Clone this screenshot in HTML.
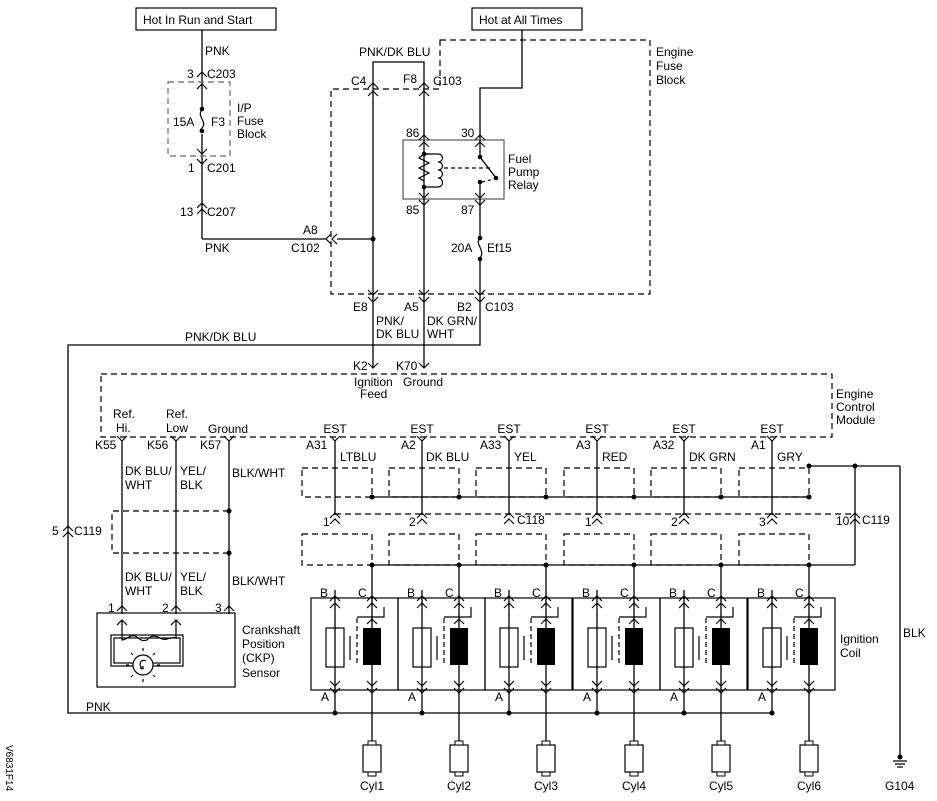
<!DOCTYPE html>
<html><head><meta charset="utf-8"><style>
html,body{margin:0;padding:0;background:#fff}
svg{display:block}
text{font-family:"Liberation Sans",Arial,sans-serif;font-size:12px;fill:#000}
.w{stroke:#000;stroke-width:1.3;fill:none}
.d{stroke:#000;stroke-width:1.2;fill:none;stroke-dasharray:6,4}
.g{stroke:#666;stroke-width:1.2;fill:none;stroke-dasharray:6,4}
.c{stroke:#000;stroke-width:1.2;fill:none}
</style></head><body>
<svg width="937" height="801" viewBox="0 0 937 801" xmlns="http://www.w3.org/2000/svg">
<defs>
<g id="coil">
  <rect x="-24" y="598" width="87" height="92" class="c"/>
  <rect x="-9" y="628" width="18" height="39" fill="#fff" stroke="#000" stroke-width="1.2"/>
  <line x1="15" y1="636" x2="15" y2="660" class="c"/>
  <line x1="22" y1="618" x2="22" y2="666" class="c" stroke-dasharray="5,3"/>
  <rect x="28" y="628" width="18" height="37" fill="#000"/>
  <path d="M22 617 H49 V607" class="c"/>
  <line x1="0" y1="590" x2="0" y2="713" class="w"/>
  <line x1="37" y1="565" x2="37" y2="745" class="w"/>
  <path d="M-5 601 L0 596 L5 601 M-5 608 L0 603 L5 608" class="c"/>
  <path d="M32 601 L37 596 L42 601 M32 608 L37 603 L42 608 M32 624 L37 619 L42 624" class="c"/>
  <path d="M-5 681 L0 686 L5 681 M-5 688 L0 693 L5 688" class="c"/>
  <path d="M32 681 L37 686 L42 681 M32 688 L37 693 L42 688" class="c"/>
  <circle cx="0" cy="713" r="2.5"/>
  <rect x="28" y="745" width="18" height="27" fill="#fff" stroke="#000" stroke-width="1.2"/>
  <rect x="33" y="741" width="8" height="4" fill="#fff" stroke="#000" stroke-width="1"/>
  <rect x="33" y="772" width="8" height="4" fill="#fff" stroke="#000" stroke-width="1"/>
  <line x1="0" y1="515" x2="0" y2="440" class="w"/>
  <path d="M-5 436 L0 441 L5 436" class="c"/>
  <path d="M-5 518 L0 513 L5 518 M-5 524 L0 519 L5 524" class="c"/>
  <path d="M-33 468 H37 V497 H-33 Z" class="d"/>
  <path d="M-33 534 H37 V565 H-33 Z" class="d"/>
  <circle cx="37" cy="497" r="2.5"/>
  <circle cx="37" cy="565" r="2.5"/>
</g>
</defs>

<rect x="136" y="8" width="140" height="22" class="c"/>
<text x="143" y="24">Hot In Run and Start</text>
<line x1="202" y1="30" x2="202" y2="239" class="w"/>
<line x1="202" y1="239" x2="326" y2="239" class="w"/>
<text x="205" y="55">PNK</text>
<path d="M197 77 L202 72 L207 77 M197 89 L202 84 L207 89" class="c"/>
<text x="187" y="78">3</text><text x="207" y="78">C203</text>
<rect x="168" y="82" width="62" height="74" class="g"/>
<rect x="199" y="108" width="6" height="26" fill="#fff"/>
<path d="M202 110 C196 116,208 122,202 128 C198 132,202 132,202 132" class="c"/>
<circle cx="202" cy="109" r="2.3"/><circle cx="202" cy="131" r="2.3"/>
<text x="173" y="126">15A</text><text x="211" y="126">F3</text>
<text x="237" y="112">I/P</text><text x="237" y="125">Fuse</text><text x="237" y="138">Block</text>
<path d="M197 149 L202 154 L207 149 M197 159 L202 164 L207 159" class="c"/>
<text x="188" y="172">1</text><text x="207" y="172">C201</text>
<path d="M197 208 L202 203 L207 208 M197 214 L202 209 L207 214" class="c"/>
<text x="180" y="216">13</text><text x="207" y="216">C207</text>
<text x="205" y="252">PNK</text>
<path d="M331 234 L326 239 L331 244 M337 234 L332 239 L337 244" class="c"/>
<text x="303" y="234">A8</text><text x="291" y="252">C102</text>

<rect x="472" y="8" width="110" height="22" class="c"/>
<text x="479" y="24">Hot at All Times</text>
<path d="M522 30 V88 H480 V140" class="w"/>
<path d="M440 40 H650 V294 H331 V89 H440 Z" class="d"/>
<text x="656" y="56">Engine</text><text x="656" y="70">Fuse</text><text x="656" y="84">Block</text>
<path d="M373 86 V62 H424 V86" class="w"/>
<text x="359" y="56">PNK/DK BLU</text>
<line x1="373" y1="86" x2="373" y2="368" class="w"/>
<line x1="424" y1="86" x2="424" y2="368" class="w"/>
<path d="M368 88 L373 83 L378 88 M368 96 L373 91 L378 96 M419 88 L424 83 L429 88 M419 96 L424 91 L429 96" class="c"/>
<text x="351" y="85">C4</text><text x="403" y="83">F8</text><text x="433" y="85">C103</text>
<circle cx="373" cy="239" r="2.5"/>
<line x1="337" y1="239" x2="373" y2="239" class="w"/>
<rect x="403" y="140" width="101" height="59" fill="#fff" stroke="#555" stroke-width="1.2"/>
<line x1="424" y1="140" x2="424" y2="200" class="w"/>
<path d="M424 154 L430 154 M424 154 l-5 4 l10 5 l-10 5 l10 5 l-10 5 l5 3" class="c"/>
<path d="M424 154 H438 C444 154,444 162,438 162 C444 162,444 170,438 170 C444 170,444 178,438 178 C444 178,444 187,438 187 H424" class="c"/>
<circle cx="424" cy="154" r="2.3"/><circle cx="424" cy="187" r="2.3"/>
<path d="M444 168 H492" class="c" stroke-dasharray="4,3"/>
<line x1="480" y1="140" x2="480" y2="157" class="w"/>
<line x1="480" y1="157" x2="496" y2="178" class="w"/>
<circle cx="480" cy="157" r="2.3"/><circle cx="496" cy="178" r="2.3"/>
<circle cx="480" cy="182" r="2.3"/>
<path d="M482 182 L494 179" class="c" stroke-dasharray="3,3"/>
<line x1="480" y1="182" x2="480" y2="240" class="w"/>
<path d="M419 140 L424 135 L429 140 M419 147 L424 142 L429 147 M475 140 L480 135 L485 140 M475 147 L480 142 L485 147" class="c"/>
<path d="M419 193 L424 198 L429 193 M419 200 L424 205 L429 200 M475 193 L480 198 L485 193 M475 200 L480 205 L485 200" class="c"/>
<text x="406" y="137">86</text><text x="461" y="137">30</text>
<text x="406" y="214">85</text><text x="461" y="214">87</text>
<text x="508" y="163">Fuel</text><text x="508" y="176">Pump</text><text x="508" y="189">Relay</text>
<path d="M480 238 C474 244,486 250,480 258" class="c"/>
<circle cx="480" cy="238" r="2.3"/><circle cx="480" cy="259" r="2.3"/>
<text x="451" y="252">20A</text><text x="487" y="252">Ef15</text>
<path d="M480 259 V345 H68 V713 H772" class="w"/>
<path d="M368 290 L373 295 L378 290 M368 297 L373 302 L378 297 M419 290 L424 295 L429 290 M419 297 L424 302 L429 297 M475 290 L480 295 L485 290 M475 297 L480 302 L485 297" class="c"/>
<text x="353" y="311">E8</text><text x="404" y="311">A5</text><text x="457" y="311">B2</text><text x="485" y="311">C103</text>
<text x="376" y="325">PNK/</text><text x="376" y="338">DK BLU</text>
<text x="427" y="325">DK GRN/</text><text x="427" y="338">WHT</text>
<text x="185" y="341">PNK/DK BLU</text>
<path d="M368 363 L373 368 L378 363 M419 363 L424 368 L429 363" class="c"/>
<text x="353" y="370">K2</text><text x="396" y="370">K70</text>

<rect x="101" y="374" width="731" height="63" class="d"/>
<text x="354" y="386">Ignition</text><text x="360" y="398">Feed</text>
<text x="403" y="386">Ground</text>
<text x="836" y="398">Engine</text><text x="836" y="411">Control</text><text x="836" y="424">Module</text>
<text x="113" y="418">Ref.</text><text x="116" y="432">Hi.</text>
<text x="166" y="418">Ref.</text><text x="166" y="432">Low</text>
<text x="208" y="433">Ground</text>
<line x1="122" y1="440" x2="122" y2="614" class="w"/>
<line x1="176" y1="440" x2="176" y2="614" class="w"/>
<line x1="229" y1="440" x2="229" y2="614" class="w"/>
<path d="M117 436 L122 441 L127 436 M171 436 L176 441 L181 436 M224 436 L229 441 L234 436" class="c"/>
<text x="95" y="449">K55</text><text x="147" y="449">K56</text><text x="200" y="449">K57</text>
<text x="125" y="475">DK BLU/</text><text x="125" y="489">WHT</text>
<text x="180" y="475">YEL/</text><text x="180" y="489">BLK</text>
<text x="232" y="477">BLK/WHT</text>
<path d="M229 511 H112 V553 H229" class="d"/>
<circle cx="229" cy="511" r="2.5"/><circle cx="229" cy="553" r="2.5"/>
<text x="125" y="581">DK BLU/</text><text x="125" y="595">WHT</text>
<text x="180" y="581">YEL/</text><text x="180" y="595">BLK</text>
<text x="232" y="585">BLK/WHT</text>
<path d="M63 531 L68 526 L73 531 M63 537 L68 532 L73 537" class="c"/>
<text x="52" y="535">5</text><text x="74" y="535">C119</text>
<path d="M117 611 L122 606 L127 611 M171 611 L176 606 L181 611 M224 611 L229 606 L234 611" class="c"/>
<text x="108" y="612">1</text><text x="162" y="612">2</text><text x="215" y="612">3</text>
<rect x="97" y="613" width="138" height="74" class="c"/>
<rect x="111" y="635" width="72" height="31" class="c"/>
<rect x="114" y="638" width="66" height="25" class="c"/>
<path d="M117 625 L122 620 L127 625 M171 625 L176 620 L181 625" class="c"/>
<path d="M122 620 V640 C127 640,130 634,135 636 C140 638,140 642,147 640 C152 634,156 636,160 638 C166 642,170 636,176 638 V620" class="c"/>
<circle cx="143" cy="665" r="10" fill="#fff" stroke="#000" stroke-width="1.2"/>
<path d="M143 651 v-3 M143 679 v3 M129 665 h-3 M157 665 h3 M133 655 l-2 -2 M153 655 l2 -2 M133 675 l-2 2 M153 675 l2 2" class="c" stroke-width="2"/>
<path d="M146 661 C140 658,138 666,143 669 M143 669 l-3 -1 M143 669 l0 -3" class="c"/>
<text x="242" y="634">Crankshaft</text><text x="242" y="648">Position</text><text x="242" y="662">(CKP)</text><text x="242" y="677">Sensor</text>

<use href="#coil" x="335"/>
<use href="#coil" x="422"/>
<use href="#coil" x="509"/>
<use href="#coil" x="597"/>
<use href="#coil" x="684"/>
<use href="#coil" x="772"/>
<line x1="372" y1="497" x2="809" y2="497" class="w"/>
<line x1="372" y1="565" x2="855" y2="565" class="w"/>
<line x1="335" y1="514" x2="855" y2="514" class="d"/>
<line x1="809" y1="466" x2="900" y2="466" class="w"/>
<circle cx="809" cy="466" r="2.5"/><circle cx="855" cy="466" r="2.5"/>
<line x1="855" y1="466" x2="855" y2="565" class="w"/>
<path d="M850 518 L855 513 L860 518 M850 524 L855 519 L860 524" class="c"/>
<line x1="900" y1="466" x2="900" y2="757" class="w"/>
<circle cx="900" cy="757" r="2.5"/>
<path d="M893 761 H907 M895 764 H905 M897 767 H903" class="c"/>
<text x="903" y="637">BLK</text>
<text x="885" y="790">G104</text>
<text x="840" y="643">Ignition</text><text x="840" y="657">Coil</text>
<text x="86" y="711">PNK</text>

<g text-anchor="middle">
<text x="335" y="433">EST</text><text x="422" y="433">EST</text><text x="509" y="433">EST</text>
<text x="597" y="433">EST</text><text x="684" y="433">EST</text><text x="772" y="433">EST</text>
<text x="372" y="790">Cyl1</text><text x="459" y="790">Cyl2</text><text x="546" y="790">Cyl3</text>
<text x="634" y="790">Cyl4</text><text x="721" y="790">Cyl5</text><text x="809" y="790">Cyl6</text>
</g>
<text x="306" y="449">A31</text><text x="401" y="449">A2</text><text x="480" y="449">A33</text>
<text x="576" y="449">A3</text><text x="653" y="449">A32</text><text x="751" y="449">A1</text>
<text x="340" y="461">LTBLU</text><text x="426" y="461">DK BLU</text><text x="514" y="461">YEL</text>
<text x="602" y="461">RED</text><text x="689" y="461">DK GRN</text><text x="777" y="461">GRY</text>
<text x="323" y="526">1</text><text x="409" y="526">2</text><text x="517" y="524">C118</text>
<text x="585" y="526">1</text><text x="671" y="526">2</text><text x="759" y="526">3</text>
<text x="836" y="525">10</text><text x="862" y="524">C119</text>
<text x="320" y="597">B</text><text x="358" y="597">C</text>
<text x="407" y="597">B</text><text x="445" y="597">C</text>
<text x="494" y="597">B</text><text x="532" y="597">C</text>
<text x="582" y="597">B</text><text x="620" y="597">C</text>
<text x="669" y="597">B</text><text x="707" y="597">C</text>
<text x="757" y="597">B</text><text x="795" y="597">C</text>
<text x="321" y="701">A</text><text x="408" y="701">A</text><text x="495" y="701">A</text>
<text x="583" y="701">A</text><text x="670" y="701">A</text><text x="758" y="701">A</text>
<text x="0" y="0" transform="translate(6,745) rotate(90)" style="font-size:10px">V6831F14</text>
</svg>
</body></html>
